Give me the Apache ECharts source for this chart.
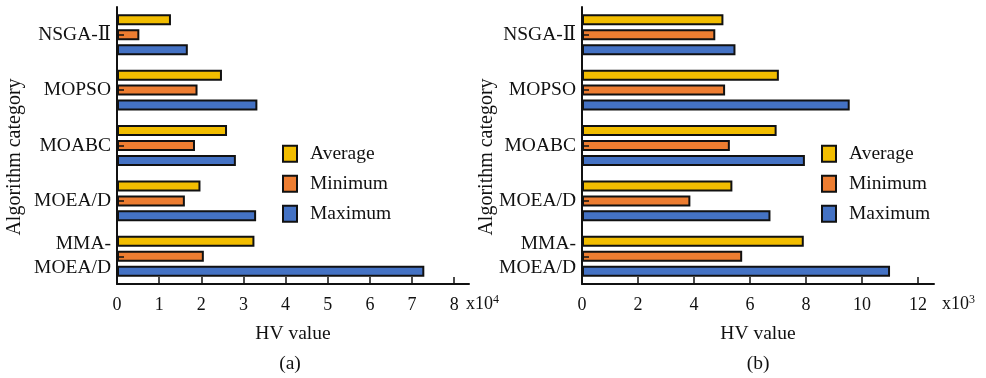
<!DOCTYPE html>
<html>
<head>
<meta charset="utf-8">
<script src="https://cdn.jsdelivr.net/npm/echarts@6/dist/echarts.min.js"></script>
<style>
html,body{margin:0;padding:0;background:#fff;}
#c{width:986px;height:378px;}
</style>
</head>
<body>
<div id="c"></div>
<script>
// ---- data ----
const categories = ['NSGA-Ⅱ', 'MOPSO', 'MOABC', 'MOEA/D', 'MMA-\nMOEA/D'];
const seriesNames = ['Average', 'Minimum', 'Maximum'];
// panel (a), x10^4
const aAverage = [1.28, 2.49, 2.61, 1.98, 3.26];
const aMinimum = [0.53, 1.91, 1.85, 1.61, 2.06];
const aMaximum = [1.68, 3.33, 2.82, 3.30, 7.29];
const aTicks = [0, 1, 2, 3, 4, 5, 6, 7, 8];
// panel (b), x10^3
const bAverage = [5.05, 7.03, 6.95, 5.37, 7.92];
const bMinimum = [4.76, 5.11, 5.28, 3.87, 5.72];
const bMaximum = [5.48, 9.56, 7.96, 6.73, 11.0];
const bTicks = [0, 2, 4, 6, 8, 10, 12];

const FONT = "'Liberation Serif', 'DejaVu Serif', 'Noto Sans CJK SC', serif";
const colors = ['#F2BD00', '#ED7D31', '#4472C4'];

const chart = echarts.init(document.getElementById('c'), null, {renderer: 'canvas'});

function xAxisCfg(idx, max, ticks) {
  return {
    type: 'value', gridIndex: idx, min: 0, max: max,
    name: 'HV value', nameLocation: 'middle', nameGap: 40,
    nameTextStyle: {fontFamily: FONT, fontSize: 19.5, color: '#111'},
    axisLine: {show: true, lineStyle: {color: '#111', width: 2}},
    axisTick: {show: true, inside: true, length: 7, customValues: ticks, lineStyle: {color: '#111', width: 1.5}},
    axisLabel: {customValues: ticks, margin: 12, fontFamily: FONT, fontSize: 18, color: '#111'},
    splitLine: {show: false}
  };
}
function yAxisCfg(idx) {
  return {
    type: 'category', gridIndex: idx, data: categories, inverse: true, z: 5,
    axisLine: {show: true, lineStyle: {color: '#111', width: 2}},
    axisTick: {show: true, inside: true, length: 7, alignWithLabel: true, lineStyle: {color: '#111', width: 1.5}},
    axisLabel: {margin: 6, fontFamily: FONT, fontSize: 19.5, color: '#111', lineHeight: 24},
    splitLine: {show: false}
  };
}
const panels = [[aAverage, aMinimum, aMaximum], [bAverage, bMinimum, bMaximum]];
const series = [];
panels.forEach((vals, p) => {
  vals.forEach((d, i) => {
    series.push({
      name: seriesNames[i], type: 'bar', xAxisIndex: p, yAxisIndex: p,
      data: d, barWidth: 11, barGap: '36%',
      itemStyle: {color: colors[i], borderColor: '#111', borderWidth: 2},
      emphasis: {disabled: true}
    });
  });
});
function legendCfg(left) {
  return {
    orient: 'vertical', left: left, top: 144, padding: 0, itemWidth: 14, itemHeight: 16, itemGap: 10.5,
    icon: 'rect', data: seriesNames,
    textStyle: {fontFamily: FONT, fontSize: 19.5, color: '#111', padding: [0, 0, 0, 8]}
  };
}
function txt(x, y, text, rot, size) {
  return {
    type: 'text', x: x, y: y, rotation: rot || 0,
    style: {text: text, fontFamily: FONT, fontSize: size || 19.5, fill: '#111', align: 'center', verticalAlign: 'middle'}
  };
}
function sup(x, y, base, s) {
  return {
    type: 'text', x: x, y: y,
    style: {
      text: '{b|' + base + '}{s|' + s + '}', align: 'left', verticalAlign: 'middle',
      rich: {
        b: {fontFamily: FONT, fontSize: 18, fill: '#111'},
        s: {fontFamily: FONT, fontSize: 12, fill: '#111', verticalAlign: 'top', padding: [0, 0, 8, 0]}
      }
    }
  };
}
chart.setOption({
  animation: false,
  backgroundColor: '#fff',
  grid: [
    {left: 117, top: 7, width: 352, height: 277},
    {left: 582, top: 7, width: 352, height: 277}
  ],
  xAxis: [xAxisCfg(0, 8.35, aTicks), xAxisCfg(1, 12.57, bTicks)],
  yAxis: [yAxisCfg(0), yAxisCfg(1)],
  legend: [legendCfg(282), legendCfg(821)],
  series: series,
  graphic: [
    txt(15, 157, 'Algorithm category', -Math.PI / 2 * -1, 20),
    txt(487, 157, 'Algorithm category', Math.PI / 2, 20),
    txt(290, 364, '(a)'),
    txt(758, 364, '(b)'),
    sup(466, 304, 'x10', '4'),
    sup(942, 304, 'x10', '3')
  ]
});
</script>
</body>
</html>
